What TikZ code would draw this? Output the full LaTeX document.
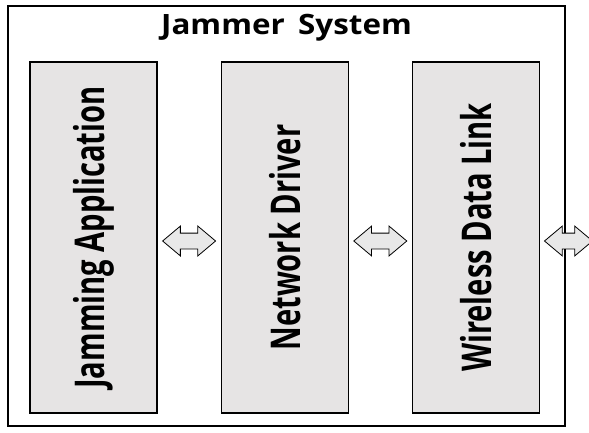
\documentclass[tikz,border=0pt]{standalone}
\usepackage{fontspec}
\setmainfont{Open Sans}
\usepackage{tikz}
\usetikzlibrary{positioning,shapes.arrows,calc}
\definecolor{boxgray}{HTML}{E6E4E4}
\definecolor{arrowgray}{HTML}{E8E8E8}
\newcommand{\sidelabel}[1]{\rotatebox{90}{\scalebox{0.71}[1]{#1}}}
\tikzstyle{frame} = [rectangle, draw, line width=1.2pt,
    minimum width=557pt, minimum height=420pt, inner sep=0pt]
\tikzstyle{block} = [rectangle, draw, line width=1.2pt, fill=boxgray,
    minimum width=127pt, minimum height=351pt, inner sep=0pt,
    font=\bfseries\fontsize{41}{45}\selectfont]
\tikzstyle{link} = [double arrow, draw, line width=0.8pt, fill=arrowgray,
    minimum height=53pt, inner xsep=0pt, inner ysep=7.5pt,
    double arrow head extend=7pt, double arrow head indent=0pt,
    double arrow tip angle=80]

\begin{document}
\begin{tikzpicture}[x=1pt, y=-1pt, node distance=63pt]
  \useasboundingbox (0,0) rectangle (589,433);
   % Place nodes
    \node [frame] (sys) at (286.5,216) {};
    \node [font=\bfseries\fontsize{28}{32}\selectfont] (title) at (286.5,28)
        {\scalebox{1.12}[1]{Jammer\, System}};
    \node [block] (app) at (93.5,237.5) {\sidelabel{Jamming Application}};
    \node [block, right=of app] (drv) {\sidelabel{Network Driver}};
    \node [block, right=of drv] (dlink) {\sidelabel{Wireless Data Link}};
   % Draw edges
    \node [link] (l1) at ($(app.east)!0.5!(drv.west)+(0,3.5)$) {};
    \node [link] (l2) at ($(drv.east)!0.5!(dlink.west)+(0,3.5)$) {};
    \node [link, minimum height=48pt] (l3) at ($(dlink.east)+(28.5,3.5)$) {};
\end{tikzpicture}
\end{document}
